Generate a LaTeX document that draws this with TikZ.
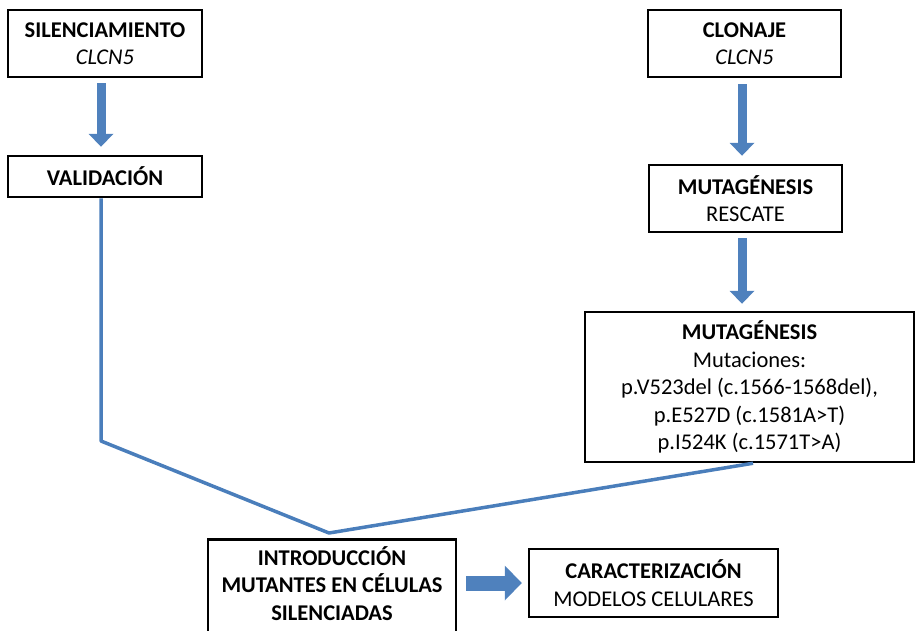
\documentclass[tikz,border=0pt]{standalone}
\usepackage{fontspec}
\setmainfont{Carlito}
\usetikzlibrary{arrows.meta}
\definecolor{arrowblue}{RGB}{79,129,189}
\definecolor{lineblue}{RGB}{74,126,187}
\tikzset{
  stage/.style={draw, line width=2.5pt, align=center, inner sep=0pt,
    font=\fontsize{22.5}{27.4}\selectfont},
  bigdown/.style={arrowblue, line width=9pt,
    -{Triangle[length=13pt,width=25pt,line width=0pt]}},
  bigright/.style={arrowblue, line width=15pt,
    -{Triangle[length=17pt,width=35pt,line width=0pt]}},
  link/.style={lineblue, line width=3.5pt, line join=round}
}
\begin{document}
\begin{tikzpicture}[x=1pt,y=-1pt]
\useasboundingbox (0,0) rectangle (916,630);
\clip (0,0) rectangle (916,630);

% left column
\node[stage, minimum width=194pt, minimum height=67pt] (silenc) at (105,43.5)
  {\textbf{SILENCIAMIENTO}\\\textit{CLCN5}};
\node[stage, minimum width=194pt, minimum height=41pt] (valid) at (105,176.5)
  {\textbf{VALIDACIÓN}};

% right column
\node[stage, minimum width=193pt, minimum height=67pt] (clonaje) at (744.5,43.5)
  {\textbf{CLONAJE}\\\textit{CLCN5}};
\node[stage, minimum width=193pt, minimum height=67pt] (rescate) at (745.5,198.5)
  {\textbf{MUTAGÉNESIS}\\RESCATE};
\node[stage, minimum width=329pt, minimum height=150pt] (mutac) at (749.5,387)
  {\textbf{MUTAGÉNESIS}\\Mutaciones:\\p.V523del (c.1566-1568del),\\p.E527D (c.1581A>T)\\p.I524K (c.1571T>A)};

% bottom row (box runs past the lower edge)
\node[stage, anchor=north, minimum width=248pt, inner ysep=13pt,
  text height=67.8pt, text depth=10pt] (intro) at (332,538)
  {\textbf{INTRODUCCIÓN}\\\textbf{MUTANTES EN CÉLULAS}\\\textbf{SILENCIADAS}};
\node[stage, minimum width=249pt, minimum height=68pt] (caract) at (653.5,583)
  {\textbf{CARACTERIZACIÓN}\\MODELOS CELULARES};

% arrows
\draw[bigdown, shorten <=5pt, shorten >=8pt] ([xshift=-4pt]silenc.south) -- ([xshift=-4pt]valid.north);
\draw[bigdown, shorten <=6pt, shorten >=8pt] ([xshift=-2.5pt]clonaje.south) -- ([xshift=-2.5pt]clonaje.south |- rescate.north);
\draw[bigdown, shorten <=5pt, shorten >=7pt] ([xshift=-3.5pt]rescate.south) -- ([xshift=-3.5pt]rescate.south |- mutac.north);
\draw[bigright, shorten <=9pt, shorten >=6pt] (intro.east |- caract.west) -- (caract.west);

% joining line
\coordinate (knee) at (101,441);
\coordinate (dip) at (329,533);
\draw[link] (valid.south -| knee) -- (knee) -- (dip) -- ([xshift=3.5pt]mutac.south);
\end{tikzpicture}
\end{document}
